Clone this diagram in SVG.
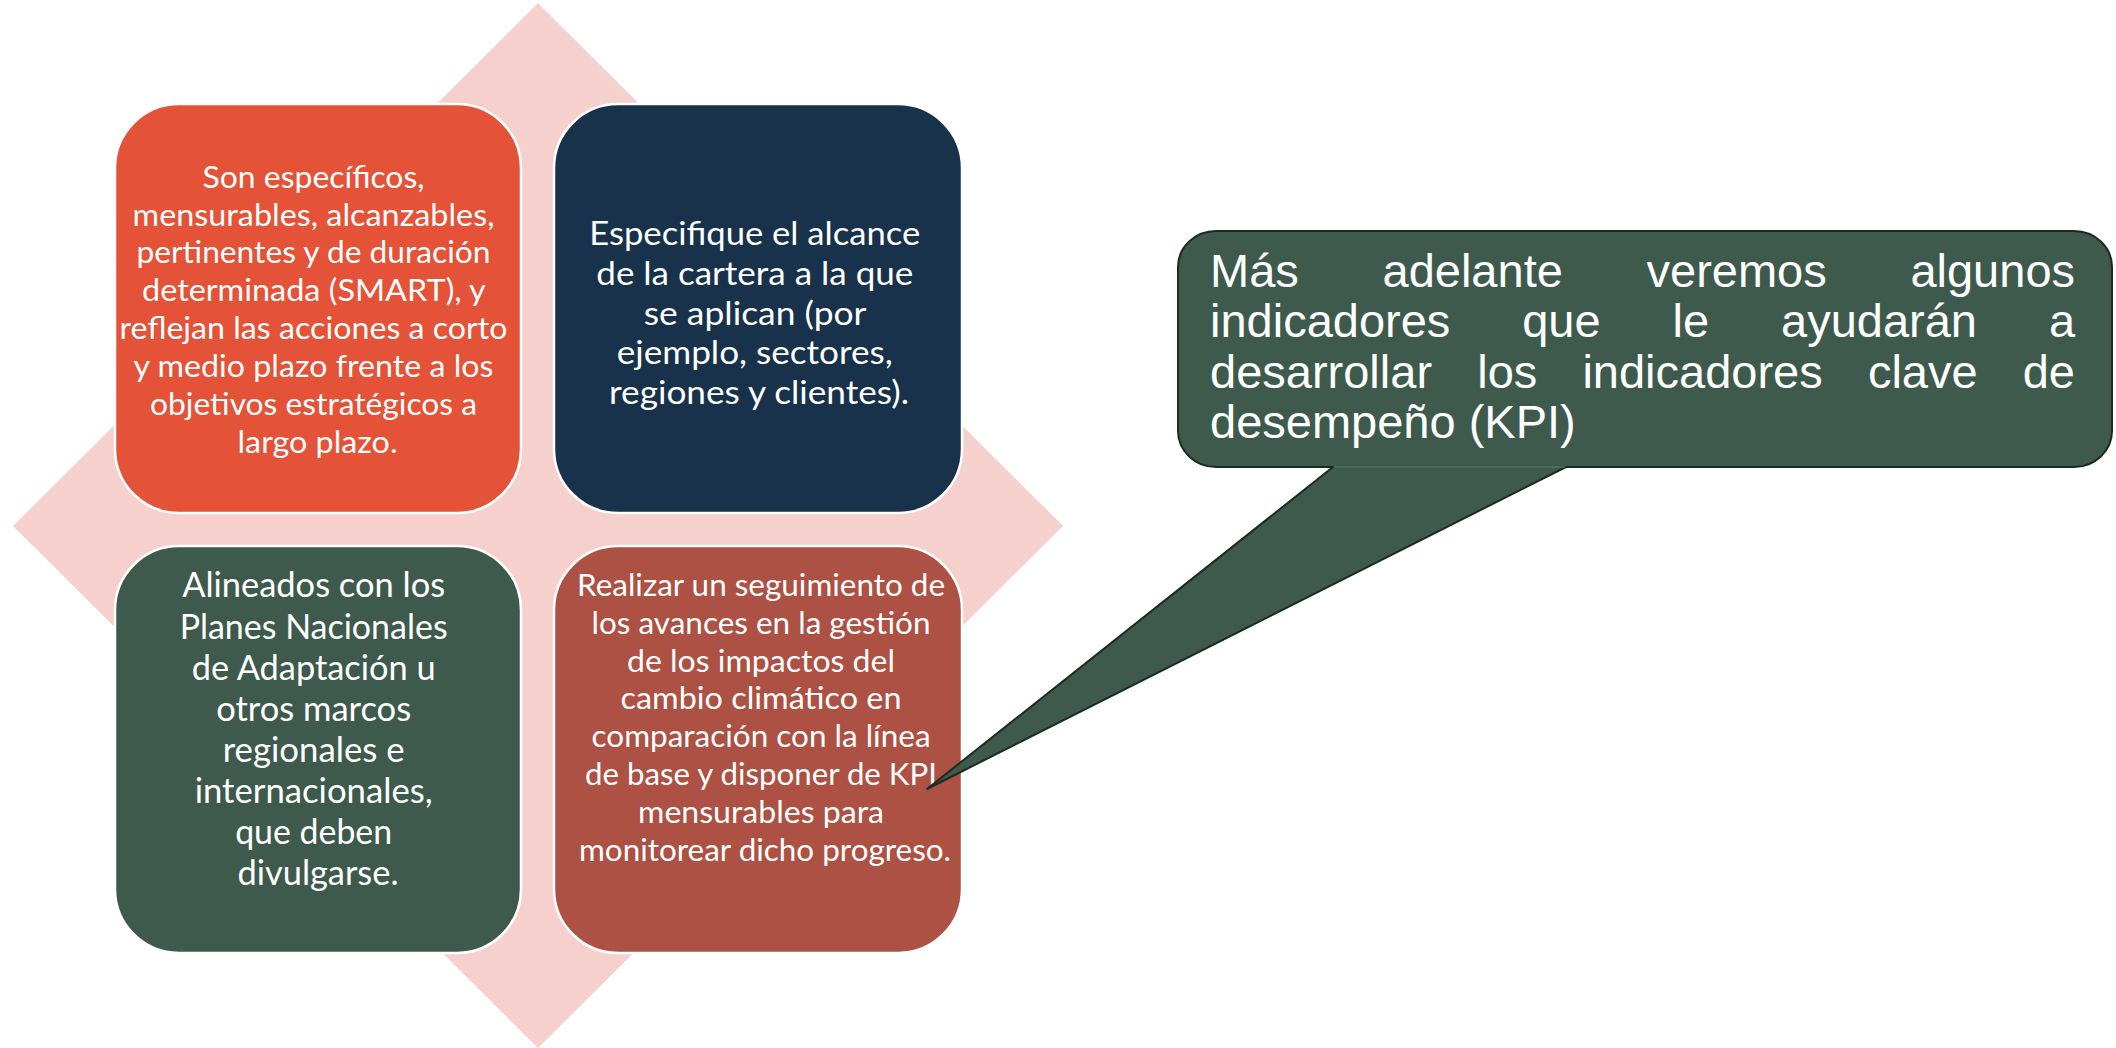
<svg xmlns="http://www.w3.org/2000/svg" width="2116" height="1048" viewBox="0 0 2116 1048">
<style>
.box{stroke:#ffffff;stroke-width:2.5}
.bt{font-family:Lato,"Open Sans","Liberation Sans",sans-serif;fill:#ffffff;text-anchor:middle}
.ct{font-family:"Liberation Sans",Arial,sans-serif;font-size:47px;fill:#ffffff}
</style>
<rect width="2116" height="1048" fill="#ffffff"/>
<g id="diamond"><polygon points="538,3 1063,526 538,1048 13,526" fill="#f6d0cd"/></g>
<g id="node-tl">
<rect class="box" x="115" y="104" width="406" height="409" rx="64" ry="64" fill="#e45238"/>
<text class="bt" font-size="31">
<tspan x="317.5" y="187.5" textLength="222" lengthAdjust="spacingAndGlyphs">Son específicos,</tspan>
<tspan x="317.5" y="225.5" textLength="362" lengthAdjust="spacingAndGlyphs">mensurables, alcanzables,</tspan>
<tspan x="317.5" y="263.4" textLength="354" lengthAdjust="spacingAndGlyphs">pertinentes y de duración</tspan>
<tspan x="317.5" y="301.3" textLength="343" lengthAdjust="spacingAndGlyphs">determinada (SMART), y</tspan>
<tspan x="317.5" y="339.2" textLength="388" lengthAdjust="spacingAndGlyphs">reflejan las acciones a corto</tspan>
<tspan x="317.5" y="377" textLength="360" lengthAdjust="spacingAndGlyphs">y medio plazo frente a los</tspan>
<tspan x="317.5" y="415" textLength="327" lengthAdjust="spacingAndGlyphs">objetivos estratégicos a</tspan>
<tspan x="317.5" y="452.8" textLength="160" lengthAdjust="spacingAndGlyphs">largo plazo.</tspan>
</text>
</g>
<g id="node-tr">
<rect class="box" x="554" y="104" width="408" height="409" rx="64" ry="64" fill="#17324a"/>
<text class="bt" font-size="33">
<tspan x="759" y="245.2" textLength="331" lengthAdjust="spacingAndGlyphs">Especifique el alcance</tspan>
<tspan x="759" y="285" textLength="317" lengthAdjust="spacingAndGlyphs">de la cartera a la que</tspan>
<tspan x="759" y="324.7" textLength="222" lengthAdjust="spacingAndGlyphs">se aplican (por</tspan>
<tspan x="759" y="364.3" textLength="276" lengthAdjust="spacingAndGlyphs">ejemplo, sectores,</tspan>
<tspan x="759" y="403.6" textLength="300" lengthAdjust="spacingAndGlyphs">regiones y clientes).</tspan>
</text>
</g>
<g id="node-bl">
<rect class="box" x="115" y="546" width="406" height="407" rx="64" ry="64" fill="#3e5a4c"/>
<text class="bt" font-size="34">
<tspan x="318" y="597.4" textLength="263" lengthAdjust="spacingAndGlyphs">Alineados con los</tspan>
<tspan x="318" y="638.5" textLength="268" lengthAdjust="spacingAndGlyphs">Planes Nacionales</tspan>
<tspan x="318" y="679.6" textLength="244" lengthAdjust="spacingAndGlyphs">de Adaptación u</tspan>
<tspan x="318" y="720.7" textLength="195" lengthAdjust="spacingAndGlyphs">otros marcos</tspan>
<tspan x="318" y="761.8" textLength="182" lengthAdjust="spacingAndGlyphs">regionales e</tspan>
<tspan x="318" y="802.9" textLength="238" lengthAdjust="spacingAndGlyphs">internacionales,</tspan>
<tspan x="318" y="844" textLength="157" lengthAdjust="spacingAndGlyphs">que deben</tspan>
<tspan x="318" y="885.1" textLength="161" lengthAdjust="spacingAndGlyphs">divulgarse.</tspan>
</text>
</g>
<g id="node-br">
<rect class="box" x="554" y="546" width="408" height="407" rx="64" ry="64" fill="#ac5143"/>
<text class="bt" font-size="31">
<tspan x="765" y="595.8" textLength="368" lengthAdjust="spacingAndGlyphs">Realizar un seguimiento de</tspan>
<tspan x="765" y="633.6" textLength="339" lengthAdjust="spacingAndGlyphs">los avances en la gestión</tspan>
<tspan x="765" y="671.5" textLength="268" lengthAdjust="spacingAndGlyphs">de los impactos del</tspan>
<tspan x="765" y="709.3" textLength="281" lengthAdjust="spacingAndGlyphs">cambio climático en</tspan>
<tspan x="765" y="747.2" textLength="339" lengthAdjust="spacingAndGlyphs">comparación con la línea</tspan>
<tspan x="765" y="785" textLength="352" lengthAdjust="spacingAndGlyphs">de base y disponer de KPI</tspan>
<tspan x="765" y="822.8" textLength="246" lengthAdjust="spacingAndGlyphs">mensurables para</tspan>
<tspan x="765" y="860.7" textLength="372" lengthAdjust="spacingAndGlyphs">monitorear dicho progreso.</tspan>
</text>
</g>
<g id="callout">
<path d="M1216 231 H2074 A38 36 0 0 1 2112 267 V431 A38 36 0 0 1 2074 467 H1566 L927 789 L1333 467 H1216 A38 36 0 0 1 1178 431 V267 A38 36 0 0 1 1216 231 Z" fill="#3e5a4c" stroke="#1b2a22" stroke-width="2" stroke-linejoin="round"/>
<line x1="1334" y1="467" x2="1565" y2="467" stroke="#5f7a6c" stroke-width="1"/>
<text class="ct">
<tspan x="1210" y="287.3">Más</tspan><tspan x="1382.5" y="287.3">adelante</tspan><tspan x="1646.5" y="287.3">veremos</tspan><tspan x="1910.4" y="287.3">algunos</tspan>
<tspan x="1210" y="337.3">indicadores</tspan><tspan x="1522.2" y="337.3">que</tspan><tspan x="1672.5" y="337.3">le</tspan><tspan x="1781" y="337.3">ayudarán</tspan><tspan x="2048.9" y="337.3">a</tspan>
<tspan x="1210" y="388.3">desarrollar</tspan><tspan x="1477.2" y="388.3">los</tspan><tspan x="1582.4" y="388.3">indicadores</tspan><tspan x="1867.9" y="388.3">clave</tspan><tspan x="2022.7" y="388.3">de</tspan>
<tspan x="1210" y="438.3">desempeño (KPI)</tspan>
</text>
</g>
<g id="connectors"></g>
</svg>
